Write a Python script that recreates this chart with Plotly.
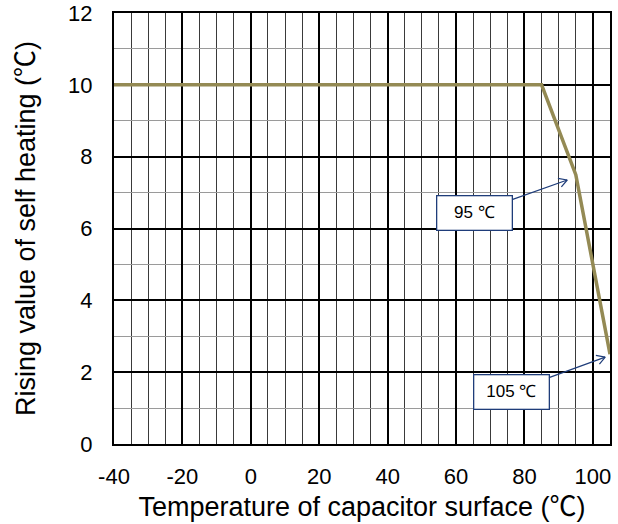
import math
import plotly.graph_objects as go

# Data
temps = [-40, 85, 95, 105]
rise = [10, 10, 7.5, 2.5]

x_ticks = [-40, -20, 0, 20, 40, 60, 80, 100]
y_ticks = [0, 2, 4, 6, 8, 10, 12]

ann_texts = ["95 ℃", "105 ℃"]
ann_head_x = [92.5, 103.6]
ann_head_y = [7.35, 2.42]
ann_box_x = [65.3, 76.1]
ann_box_y = [6.43, 1.46]

X_RANGE = [-40, 105]
Y_RANGE = [0, 12]
W, H = 618, 524
M = dict(l=114, r=8, t=13, b=80)
PX_X = (W - M["l"] - M["r"]) / (X_RANGE[1] - X_RANGE[0])
PX_Y = (H - M["t"] - M["b"]) / (Y_RANGE[1] - Y_RANGE[0])

ARROW_COLOR = "#1F3D7A"
DEG_C = "<span style='font-family:Noto Sans CJK JP'>℃</span>"

fig = go.Figure()
fig.add_trace(go.Scatter(
    x=temps, y=rise, mode="lines",
    line=dict(color="#948A54", width=3.5),
    showlegend=False, hoverinfo="skip",
))

for t, hx, hy, bx, by in zip(ann_texts, ann_head_x, ann_head_y, ann_box_x, ann_box_y):
    # box + connector line
    fig.add_annotation(
        x=hx, y=hy, ax=bx, ay=by, xref="x", yref="y", axref="x", ayref="y",
        text=t, showarrow=True, arrowhead=0, arrowwidth=1.2,
        arrowcolor=ARROW_COLOR, bgcolor="white", bordercolor=ARROW_COLOR,
        borderwidth=1.3, width=72, height=31,
        font=dict(family="Liberation Sans, Arial", size=17, color="black"),
    )
    # open arrowhead (two short legs)
    dx = (hx - bx) * PX_X
    dy = -(hy - by) * PX_Y
    ang = math.atan2(dy, dx)
    for s in (-1, 1):
        a = ang + math.pi + s * math.radians(30)
        fig.add_annotation(
            x=hx, y=hy, xref="x", yref="y", text="", showarrow=True,
            arrowhead=0, arrowwidth=1.2, arrowcolor=ARROW_COLOR,
            ax=11 * math.cos(a), ay=11 * math.sin(a),
        )

tick_font = dict(family="Liberation Sans, Arial", size=22, color="black")
title_font = dict(family="Liberation Sans, Arial", size=27, color="black")

fig.update_layout(
    width=W, height=H,
    margin=M,
    paper_bgcolor="white", plot_bgcolor="white",
    xaxis=dict(
        range=X_RANGE, tickvals=x_ticks, ticktext=[str(v) for v in x_ticks],
        ticks="", ticklabelstandoff=12, automargin=False,
        showgrid=True, gridcolor="black", gridwidth=2,
        minor=dict(dtick=5, tick0=-40, showgrid=True, gridcolor="#3a3a3a", gridwidth=1),
        showline=True, linecolor="black", linewidth=2, mirror=True,
        zeroline=False, tickfont=tick_font,
        title=dict(text="Temperature of capacitor surface (" + DEG_C + ")", standoff=20, font=title_font),
    ),
    yaxis=dict(
        range=Y_RANGE, tickvals=y_ticks, ticks="", ticklabelstandoff=15, automargin=False,
        showgrid=True, gridcolor="black", gridwidth=1.5,
        minor=dict(dtick=1, tick0=0, showgrid=True, gridcolor="#9a9a9a", gridwidth=1),
        showline=True, linecolor="black", linewidth=2, mirror=True,
        zeroline=False, tickfont=tick_font,
        title=dict(text="Rising value of self heating (" + DEG_C + ")", standoff=25, font=title_font),
    ),
)

fig.write_html(
    "out.html",
    config={"displayModeBar": False},
    post_script="document.body.style.margin='0';document.body.style.overflow='hidden';",
)
